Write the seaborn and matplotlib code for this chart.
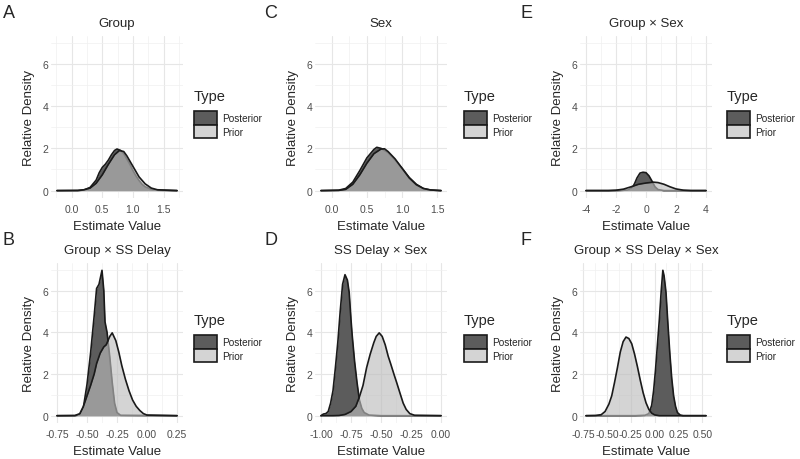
import matplotlib
matplotlib.use("Agg")
import matplotlib.pyplot as plt
from matplotlib.patches import Patch
from matplotlib.ticker import FixedLocator
import seaborn as sns

# ── Data ───────────────────────────────────────────────────────────────────
group_post_x = [-0.24, 0.1, 0.2, 0.3, 0.4, 0.45, 0.5, 0.55, 0.6, 0.65, 0.7, 0.74,
                0.8, 0.85, 0.9, 0.95, 1.0, 1.05, 1.1, 1.15, 1.2, 1.3, 1.4, 1.72]
group_post_y = [0, 0.0, 0.03, 0.15, 0.5, 0.85, 1.1, 1.25, 1.45, 1.7, 1.9, 1.97,
                1.9, 1.75, 1.5, 1.25, 0.95, 0.7, 0.48, 0.3, 0.18, 0.06, 0.02, 0]
group_prior_x = [-0.24, 0.1, 0.2, 0.3, 0.4, 0.5, 0.6, 0.7, 0.78, 0.85, 0.9, 1.0,
                 1.1, 1.2, 1.3, 1.4, 1.72]
group_prior_y = [0, 0.01, 0.04, 0.12, 0.35, 0.75, 1.25, 1.7, 1.9, 1.85, 1.65, 1.15,
                 0.65, 0.32, 0.12, 0.04, 0]

gxd_post_x = [-0.75, -0.6, -0.56, -0.53, -0.5, -0.47, -0.44, -0.42, -0.4, -0.375,
              -0.36, -0.35, -0.333, -0.31, -0.29, -0.27, -0.25, -0.22, 0.25]
gxd_post_y = [0, 0.0, 0.05, 0.4, 1.5, 3.0, 4.8, 6.1, 6.3, 6.97,
              6.0, 4.5, 4.0, 2.8, 1.6, 0.6, 0.15, 0.02, 0]
gxd_prior_x = [-0.75, -0.6, -0.56, -0.53, -0.5, -0.47, -0.44, -0.42, -0.39, -0.36,
               -0.34, -0.31, -0.29, -0.26, -0.235, -0.21, -0.18, -0.15, -0.12,
               -0.09, -0.06, -0.03, 0.0, 0.25]
gxd_prior_y = [0, 0.01, 0.1, 0.45, 0.95, 1.45, 2.0, 2.5, 3.0, 3.3,
               3.4, 3.8, 3.97, 3.6, 3.05, 2.4, 1.75, 1.2, 0.75,
               0.45, 0.25, 0.1, 0.03, 0]

sex_post_x = [-0.15, 0.1, 0.2, 0.3, 0.4, 0.5, 0.55, 0.6, 0.64, 0.7, 0.8, 0.9,
              1.0, 1.1, 1.2, 1.3, 1.4, 1.55]
sex_post_y = [0, 0.02, 0.1, 0.4, 0.95, 1.55, 1.75, 1.95, 2.05, 2.0, 1.8, 1.45,
              1.05, 0.62, 0.3, 0.1, 0.03, 0]
sex_prior_x = [-0.15, 0.1, 0.2, 0.3, 0.4, 0.5, 0.6, 0.7, 0.75, 0.8, 0.9,
               1.0, 1.1, 1.2, 1.3, 1.4, 1.55]
sex_prior_y = [0, 0.01, 0.06, 0.3, 0.75, 1.3, 1.75, 1.97, 1.98, 1.85, 1.5,
               1.05, 0.6, 0.28, 0.1, 0.03, 0]

dxs_post_x = [-1.0, -0.98, -0.96, -0.94, -0.92, -0.9, -0.88, -0.86, -0.84, -0.82,
              -0.8, -0.78, -0.765, -0.75, -0.74, -0.72, -0.7, -0.68, -0.66,
              -0.64, -0.6, -0.5, 0.0]
dxs_post_y = [0, 0.08, 0.1, 0.2, 0.6, 1.2, 2.3, 3.5, 5.0, 6.3,
              6.76, 6.5, 5.9, 4.6, 3.85, 2.6, 1.6, 0.75, 0.35,
              0.15, 0.03, 0.0, 0]
dxs_prior_x = [-1.0, -0.9, -0.85, -0.8, -0.75, -0.71, -0.68, -0.65, -0.62, -0.59,
               -0.56, -0.54, -0.515, -0.49, -0.465, -0.44, -0.42, -0.39, -0.37,
               -0.34, -0.315, -0.29, -0.26, -0.22, 0.0]
dxs_prior_y = [0, 0.0, 0.01, 0.06, 0.2, 0.45, 0.9, 1.45, 2.3, 2.95,
               3.5, 3.8, 3.97, 3.8, 3.4, 2.85, 2.5, 1.95, 1.6,
               1.05, 0.6, 0.3, 0.1, 0.02, 0]

gxs_post_x = [-4, -2, -1.2, -0.9, -0.75, -0.6, -0.4, -0.2, 0.0, 0.2, 0.4, 0.6,
              0.8, 1.2, 4]
gxs_post_y = [0, 0.0, 0.03, 0.15, 0.35, 0.6, 0.83, 0.87, 0.85, 0.7, 0.45, 0.18,
              0.05, 0.0, 0]
gxs_prior_x = [-4, -2.5, -2.0, -1.5, -1.0, -0.5, 0.0, 0.5, 0.8, 1.2, 1.6, 2.0,
               2.5, 3.0, 4]
gxs_prior_y = [0, 0.0, 0.02, 0.07, 0.18, 0.3, 0.36, 0.4, 0.38, 0.3, 0.18, 0.08,
               0.02, 0.0, 0]

gdxs_post_x = [-0.72, -0.2, -0.1, -0.06, -0.03, -0.01, 0.01, 0.03, 0.05, 0.07,
               0.087, 0.1, 0.12, 0.14, 0.16, 0.18, 0.2, 0.22, 0.24, 0.27, 0.3, 0.54]
gdxs_post_y = [0, 0.0, 0.02, 0.1, 0.5, 1.2, 2.2, 3.4, 4.6, 6.0,
               6.97, 6.7, 5.9, 4.4, 3.0, 1.8, 0.95, 0.45, 0.15, 0.03, 0.0, 0]
gdxs_prior_x = [-0.72, -0.62, -0.56, -0.52, -0.48, -0.45, -0.42, -0.39, -0.36,
                -0.33, -0.3, -0.27, -0.24, -0.21, -0.18, -0.15, -0.12, -0.09,
                -0.06, -0.03, 0.0, 0.05, 0.54]
gdxs_prior_y = [0, 0.01, 0.05, 0.2, 0.55, 0.95, 1.6, 2.3, 3.05,
                3.55, 3.77, 3.7, 3.45, 2.95, 2.35, 1.7, 1.1, 0.62,
                0.3, 0.12, 0.04, 0.0, 0]

titles  = ["Group", "Group × SS Delay", "Sex", "SS Delay × Sex",
           "Group × Sex", "Group × SS Delay × Sex"]
letters = ["A", "B", "C", "D", "E", "F"]
xticks = [[0.0, 0.5, 1.0, 1.5],
          [-0.75, -0.50, -0.25, 0.00, 0.25],
          [0.0, 0.5, 1.0, 1.5],
          [-1.00, -0.75, -0.50, -0.25, 0.00],
          [-4, -2, 0, 2, 4],
          [-0.75, -0.50, -0.25, 0.00, 0.25, 0.50]]
xtick_fmt = ["{:.1f}", "{:.2f}", "{:.1f}", "{:.2f}", "{:.0f}", "{:.2f}"]
yticks = [0, 2, 4, 6]
type_labels = ["Posterior", "Prior"]

curves = [(group_post_x, group_post_y, group_prior_x, group_prior_y),
          (gxd_post_x, gxd_post_y, gxd_prior_x, gxd_prior_y),
          (sex_post_x, sex_post_y, sex_prior_x, sex_prior_y),
          (dxs_post_x, dxs_post_y, dxs_prior_x, dxs_prior_y),
          (gxs_post_x, gxs_post_y, gxs_prior_x, gxs_prior_y),
          (gdxs_post_x, gdxs_post_y, gdxs_prior_x, gdxs_prior_y)]

# ── Style ──────────────────────────────────────────────────────────────────
sns.set_theme(style="whitegrid")
plt.rcParams["font.family"] = ["Liberation Sans", "DejaVu Sans"]

POST_COL  = "#5c5c5c"
PRIOR_COL = "#bcbcbc"
PRIOR_A   = 0.64
LINE_COL  = "#1a1a1a"

W, H = 800, 460
fig = plt.figure(figsize=(W / 100, H / 100), dpi=100)

def px_axes(left, top, w, h):
    return fig.add_axes([left / W, 1 - (top + h) / H, w / W, h / H])

col_left   = [51, 315, 580]
col_letter = [3, 264, 521]
col_legend = [194, 464, 727]
row_top    = [37, 264]
row_h      = [162, 160]
row_letter = [13, 241]
row_legend = [90, 314]

for i, (px, py, qx, qy) in enumerate(curves):
    col, row = i // 2, i % 2
    ax = px_axes(col_left[col], row_top[row], 132, row_h[row])

    # posterior first, prior drawn over it (like ggplot group order)
    ax.fill_between(px, py, 0, color=POST_COL, lw=0, zorder=2)
    sns.lineplot(x=px, y=py, color=LINE_COL, lw=1.2, ax=ax, zorder=3)
    ax.fill_between(qx, qy, 0, color=PRIOR_COL, alpha=PRIOR_A, lw=0, zorder=4)
    sns.lineplot(x=qx, y=qy, color=LINE_COL, lw=1.2, ax=ax, zorder=5)

    lo, hi = min(px + qx), max(px + qx)
    pad = 0.05 * (hi - lo)
    ax.set_xlim(lo - pad, hi + pad)
    ax.set_ylim(-0.35, 7.32)

    xt = xticks[i]
    ax.xaxis.set_major_locator(FixedLocator(xt))
    ax.set_xticklabels([xtick_fmt[i].format(v) for v in xt])
    step = xt[1] - xt[0]
    ax.xaxis.set_minor_locator(FixedLocator([xt[0] - step / 2] + [v + step / 2 for v in xt]))
    ax.yaxis.set_major_locator(FixedLocator(yticks))
    ax.yaxis.set_minor_locator(FixedLocator([1, 3, 5, 7]))

    ax.grid(which="major", color="#e6e6e6", lw=0.8)
    ax.grid(which="minor", color="#f0f0f0", lw=0.5)
    ax.set_axisbelow(True)
    sns.despine(ax=ax, left=True, bottom=True)
    ax.tick_params(which="both", length=0, labelsize=7.5, labelcolor="#4d4d4d")
    ax.tick_params(axis="x", pad=4)
    ax.tick_params(axis="y", pad=2)

    ax.set_title(titles[i], fontsize=9.5, pad=7)
    ax.set_xlabel("Estimate Value", fontsize=9.5, labelpad=4.5)
    ax.set_ylabel("Relative Density", fontsize=9.5, labelpad=5)

    handles = [Patch(facecolor=POST_COL, edgecolor=LINE_COL, lw=1.2),
               Patch(facecolor="#d4d4d4", edgecolor=LINE_COL, lw=1.2)]
    leg = fig.legend(handles, type_labels, title="Type", loc="upper left",
                     bbox_to_anchor=(col_legend[col] / W, 1 - row_legend[row] / H),
                     frameon=False, fontsize=7.2, title_fontsize=10.5,
                     alignment="left", borderpad=0, borderaxespad=0,
                     handlelength=2.3, handleheight=1.65, labelspacing=0.05,
                     handletextpad=0.5)
    leg._legend_box.sep = 6

    fig.text(col_letter[col] / W, 1 - row_letter[row] / H, letters[i],
             fontsize=13, va="center", ha="left")

fig.savefig("out.png", dpi=100)
